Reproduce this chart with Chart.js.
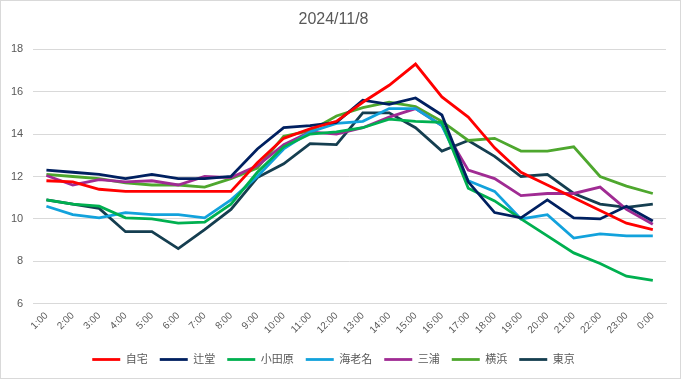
<!DOCTYPE html>
<html>
<head>
<meta charset="utf-8">
<script src="https://cdn.jsdelivr.net/npm/chart.js@4/dist/chart.umd.min.js"></script>
<style>
html,body{margin:0;padding:0;background:#fff;}
#wrap{width:681px;height:379px;position:relative;}
</style>
</head>
<body>
<div id="wrap"><canvas id="c" width="681" height="379"></canvas></div>
<script>
const categories = ["1:00","2:00","3:00","4:00","5:00","6:00","7:00","8:00","9:00","10:00","11:00","12:00","13:00","14:00","15:00","16:00","17:00","18:00","19:00","20:00","21:00","22:00","23:00","0:00"];
const seriesNames = ["自宅","辻堂","小田原","海老名","三浦","横浜","東京"];
const jitaku   = [11.8,11.75,11.4,11.3,11.3,11.3,11.3,11.3,12.65,13.8,14.25,14.6,15.5,16.3,17.3,15.75,14.8,13.35,12.2,11.6,11.0,10.4,9.8,9.5];
const tsujido  = [12.3,12.2,12.1,11.9,12.1,11.9,11.9,12.0,13.3,14.3,14.4,14.55,15.6,15.4,15.7,14.9,11.75,10.3,10.05,10.9,10.05,10.0,10.6,9.9];
const odawara  = [10.9,10.7,10.6,10.05,10.0,9.8,9.85,10.7,12.2,13.4,14.0,14.1,14.3,14.7,14.6,14.55,11.45,10.85,10.0,9.2,8.4,7.9,7.3,7.1];
const ebina    = [10.6,10.2,10.05,10.3,10.2,10.2,10.05,10.9,12.0,13.3,14.1,14.5,14.6,15.2,15.2,14.4,11.8,11.3,10.0,10.2,9.1,9.3,9.2,9.2];
const miura    = [12.05,11.6,11.85,11.75,11.8,11.6,12.0,11.95,12.5,13.5,14.1,14.0,14.3,14.8,15.2,14.4,12.3,11.9,11.1,11.2,11.2,11.5,10.45,9.75];
const yokohama = [12.1,12.0,11.9,11.7,11.6,11.6,11.5,11.9,12.4,13.9,14.15,14.85,15.25,15.5,15.3,14.6,13.7,13.8,13.2,13.2,13.4,12.0,11.55,11.2];
const tokyo    = [10.9,10.7,10.5,9.4,9.4,8.6,9.5,10.45,11.95,12.6,13.55,13.5,15.0,15.0,14.3,13.2,13.7,12.95,12.0,12.1,11.2,10.7,10.55,10.7];
const seriesValues = [jitaku,tsujido,odawara,ebina,miura,yokohama,tokyo];
const colors = ["#FF0000","#002060","#00B050","#12A2DC","#A02B93","#4EA72E","#153E50"];
const yTicks = {min:6,max:18,step:2};

const FONT = "'Liberation Sans','Noto Sans CJK JP',sans-serif";

const bgPlugin = {
  id:'bg',
  beforeDraw(chart){
    const ctx = chart.ctx;
    ctx.save();
    ctx.fillStyle = '#fff';
    ctx.fillRect(0,0,chart.width,chart.height);
    ctx.strokeStyle = '#D9D9D9';
    ctx.lineWidth = 1;
    ctx.strokeRect(0.5,0.5,chart.width-1,chart.height-1);
    ctx.restore();
  }
};

new Chart(document.getElementById('c'), {
  type:'line',
  data:{
    labels:categories,
    datasets: seriesNames.map((n,i)=>({
      label:n,
      data:seriesValues[i],
      borderColor:colors[i],
      backgroundColor:colors[i],
      borderWidth:2.8,
      pointRadius:0,
      pointHoverRadius:0,
      tension:0,
      fill:false
    }))
  },
  options:{
    responsive:false,
    animation:false,
    devicePixelRatio:1,
    layout:{padding:{left:1,right:15,top:6,bottom:4}},
    plugins:{
      title:{display:true,text:'2024/11/8',color:'#595959',font:{family:FONT,size:16,weight:'normal'},padding:{top:4,bottom:20}},
      legend:{
        position:'bottom',
        labels:{
          usePointStyle:true,
          pointStyle:'line',
          pointStyleWidth:28,
          color:'#595959',
          font:{family:FONT,size:11},
          padding:12
        }
      },
      tooltip:{enabled:false}
    },
    scales:{
      x:{
        offset:true,
        grid:{display:false,drawTicks:false},
        border:{display:true,color:'#D9D9D9'},
        ticks:{color:'#595959',font:{family:FONT,size:10},maxRotation:45,minRotation:45,autoSkip:false,padding:6}
      },
      y:{
        min:yTicks.min,max:yTicks.max,
        ticks:{stepSize:yTicks.step,color:'#595959',font:{family:FONT,size:11},padding:10},
        grid:{color:'#D9D9D9',drawTicks:false},
        border:{display:false}
      }
    }
  },
  plugins:[bgPlugin]
});
</script>
</body>
</html>
